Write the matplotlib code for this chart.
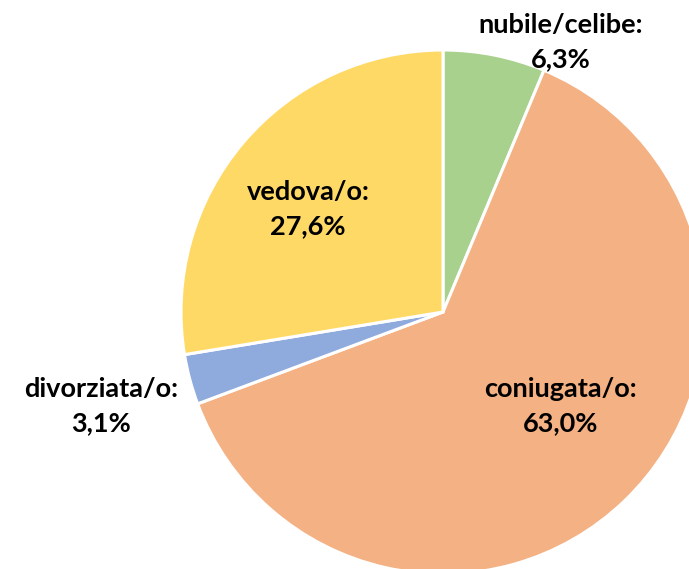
import matplotlib.pyplot as plt

categories = ['nubile/celibe', 'coniugata/o', 'divorziata/o', 'vedova/o']
values = [6.3, 63.0, 3.1, 27.6]
colors = ['#A9D18E', '#F4B183', '#8FAADC', '#FFD966']
pct_labels = ['6,3%', '63,0%', '3,1%', '27,6%']

W, H = 689, 569
cx, cy, r = 443, 312, 262

fig = plt.figure(figsize=(W / 100, H / 100), dpi=100)
ax = fig.add_axes([0, 0, 1, 1])
ax.pie(values, colors=colors, startangle=90, counterclock=False, radius=1,
       wedgeprops=dict(edgecolor='white', linewidth=2.2))
ax.set_xlim(-cx / r, (W - cx) / r)
ax.set_ylim(-(H - cy) / r, cy / r)
ax.set_aspect('auto')
ax.axis('off')

# label positions in pixels (text anchor centers)
label_pos = [(561, 42), (561, 406), (101, 406), (308, 209)]
for cat, pct, (px, py) in zip(categories, pct_labels, label_pos):
    ax.text((px - cx) / r, (cy - py) / r, f'{cat}:\n{pct}', ha='center', va='center',
            fontsize=19.5, fontweight='bold', family=['Lato', 'DejaVu Sans'],
            linespacing=1.5, color='#000000')

fig.savefig('out.png', dpi=100)
